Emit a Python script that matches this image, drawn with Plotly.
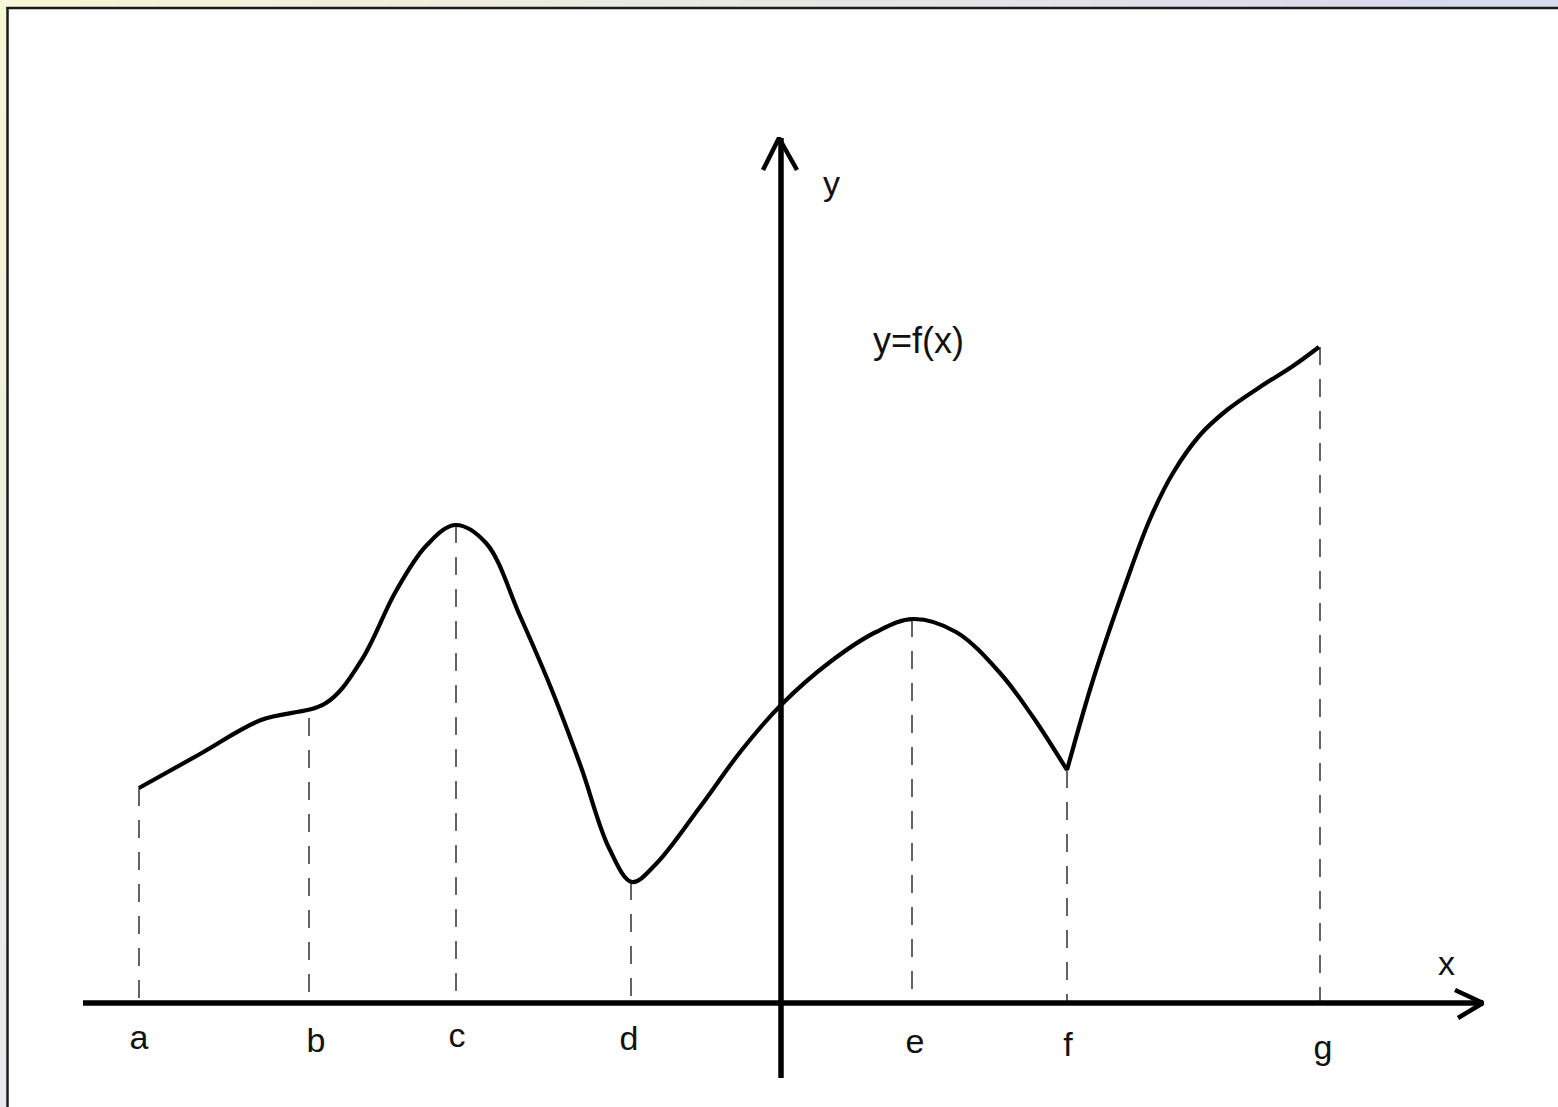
import plotly.graph_objects as go

# ---- data (math units: origin at axis crossing) ----
curve1_x = [-6.42, -5.81, -5.20, -4.55, -4.20, -3.85, -3.55, -3.26, -2.95, -2.61, -2.30,
            -2.00, -1.72, -1.49, -1.25, -0.81, -0.40, 0.00, 0.49, 0.95, 1.32, 1.75,
            2.19, 2.52, 2.86]
curve1_y = [2.15, 2.49, 2.83, 3.00, 3.42, 4.12, 4.57, 4.78, 4.60, 3.87, 3.15,
            2.36, 1.55, 1.21, 1.39, 1.96, 2.52, 2.98, 3.41, 3.71, 3.84, 3.71,
            3.30, 2.86, 2.33]
curve2_x = [2.86, 3.12, 3.46, 3.69, 3.92, 4.19, 4.46, 4.79, 5.12, 5.38]
curve2_y = [2.33, 3.23, 4.23, 4.84, 5.30, 5.68, 5.93, 6.16, 6.37, 6.56]

point_names = ["a", "b", "c", "d", "e", "f", "g"]
point_x = [-6.42, -4.72, -3.25, -1.50, 1.31, 2.86, 5.39]
point_y = [2.15, 2.85, 4.78, 1.21, 3.84, 2.33, 6.56]
label_x = [-6.42, -4.65, -3.24, -1.52, 1.34, 2.87, 5.42]
label_y = [-0.37, -0.40, -0.35, -0.38, -0.41, -0.44, -0.47]

x_axis_span = [-6.98, 7.02]
y_axis_span = [-0.75, 8.65]
x_head_x = [6.74, 7.02, 6.77]
x_head_y = [0.13, 0.0, -0.15]
y_head_x = [-0.18, -0.02, 0.16]
y_head_y = [8.33, 8.65, 8.33]

FONT = "Liberation Sans, Arial, sans-serif"

fig = go.Figure()

# dashed drop lines
for px, py in zip(point_x, point_y):
    fig.add_trace(go.Scatter(x=[px, px], y=[py, 0], mode="lines",
                             line=dict(color="#222222", width=1.4, dash="18px,14px"),
                             hoverinfo="skip", showlegend=False))

# axes
axis_line = dict(color="black", width=5.5)
fig.add_trace(go.Scatter(x=x_axis_span, y=[0, 0], mode="lines",
                         line=axis_line, showlegend=False, hoverinfo="skip"))
fig.add_trace(go.Scatter(x=[0, 0], y=y_axis_span, mode="lines",
                         line=axis_line, showlegend=False, hoverinfo="skip"))
fig.add_trace(go.Scatter(x=x_head_x, y=x_head_y, mode="lines",
                         line=dict(color="black", width=4.5), showlegend=False, hoverinfo="skip"))
fig.add_trace(go.Scatter(x=y_head_x, y=y_head_y, mode="lines",
                         line=dict(color="black", width=4.5), showlegend=False, hoverinfo="skip"))

# function curve
fig.add_trace(go.Scatter(x=curve1_x, y=curve1_y, mode="lines",
                         line=dict(color="black", width=4.2, shape="spline", smoothing=1.0),
                         showlegend=False, hoverinfo="skip"))
fig.add_trace(go.Scatter(x=curve2_x, y=curve2_y, mode="lines",
                         line=dict(color="black", width=4.2, shape="spline", smoothing=1.0),
                         showlegend=False, hoverinfo="skip"))

# labels
fig.add_trace(go.Scatter(x=label_x, y=label_y, mode="text", text=point_names,
                         textfont=dict(family=FONT, size=34, color="#111111"),
                         showlegend=False, hoverinfo="skip"))
fig.add_annotation(x=6.65, y=0.40, text="x", showarrow=False,
                   font=dict(family=FONT, size=34, color="#111111"))
fig.add_annotation(x=0.50, y=8.20, text="y", showarrow=False,
                   font=dict(family=FONT, size=34, color="#111111"))
fig.add_annotation(x=1.37, y=6.63, text="y=f(x)", showarrow=False,
                   font=dict(family=FONT, size=36, color="#111111"))

# frame decoration
W, H = 1558, 1107
shapes = []
n = 40
c0 = (247, 246, 214)
c1 = (216, 216, 240)
for i in range(n):
    t = i / (n - 1)
    col = "rgb(%d,%d,%d)" % tuple(int(c0[k] + (c1[k] - c0[k]) * t) for k in range(3))
    shapes.append(dict(type="rect", xref="paper", yref="paper",
                       x0=i / n, x1=(i + 1) / n + 0.001, y0=1 - 7 / H, y1=1,
                       fillcolor=col, line=dict(width=0), layer="below"))
m = 20
d0 = (246, 246, 214)
d1 = (232, 232, 236)
for i in range(m):
    t = i / (m - 1)
    col = "rgb(%d,%d,%d)" % tuple(int(d0[k] + (d1[k] - d0[k]) * t) for k in range(3))
    shapes.append(dict(type="rect", xref="paper", yref="paper",
                       x0=0, x1=6 / W, y0=1 - (i + 1) / m - 0.001, y1=1 - i / m,
                       fillcolor=col, line=dict(width=0), layer="below"))
shapes.append(dict(type="line", xref="paper", yref="paper", x0=6.5 / W, x1=1, y0=1 - 8 / H, y1=1 - 8 / H,
                   line=dict(color="#1a1a1a", width=2.5)))
shapes.append(dict(type="line", xref="paper", yref="paper", x0=7.5 / W, x1=7.5 / W, y0=0, y1=1 - 7 / H,
                   line=dict(color="#1a1a1a", width=2.5)))

fig.update_layout(
    width=W, height=H, autosize=False,
    margin=dict(l=0, r=0, t=0, b=0),
    paper_bgcolor="white", plot_bgcolor="white",
    xaxis=dict(range=[-7.81, 7.77], visible=False, fixedrange=True),
    yaxis=dict(range=[-1.04, 10.03], visible=False, fixedrange=True),
    shapes=shapes,
    showlegend=False,
)

fig.write_html("out.html", config={"displayModeBar": False},
               post_script="document.body.style.margin='0px';document.body.style.overflow='hidden';")
